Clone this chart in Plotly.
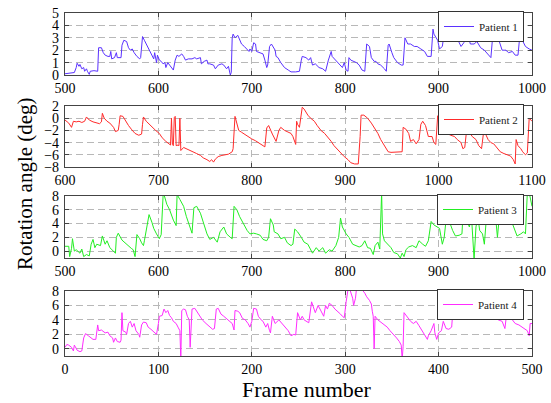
import plotly.graph_objects as go

# ---------------- data ----------------
p1_frames = [
    500, 505, 510, 512, 513, 515, 516, 518, 520, 521,
    523, 524, 526, 527, 531, 535, 536, 539, 541, 543,
    546, 548, 549, 550, 553, 555, 556, 560, 561, 563,
    566, 568, 570, 572, 574, 577, 580, 581, 583, 585,
    587, 589, 591, 593, 595, 596, 597, 598, 599, 601,
    603, 605, 607, 608, 610, 612, 614, 616, 618, 620,
    622, 625, 627, 629, 632, 636, 639, 641, 645, 646,
    649, 652, 653, 655, 659, 661, 664, 668, 670, 673,
    675, 677, 678, 679, 680, 682, 685, 687, 689, 692,
    695, 697, 698, 700, 702, 704, 705, 709, 712, 714,
    716, 717, 719, 721, 723, 725, 726, 728, 731, 735,
    739, 742, 747, 751, 753, 754, 758, 761, 763, 765,
    768, 772, 776, 779, 782, 785, 786, 790, 794, 797,
    799, 801, 803, 804, 806, 810, 812, 815, 818, 821,
    823, 826, 828, 831, 833, 835, 838, 842, 844, 846,
    847, 850, 852, 856, 860, 862, 864, 867, 870, 874,
    877, 881, 885, 888, 892, 894, 895, 899, 901, 904,
    906, 908, 911, 914, 917, 919, 922, 924, 927, 931,
    934, 938, 941, 945, 949, 952, 956, 958, 961, 965,
    968, 972, 975, 979, 982, 985, 987, 990, 993, 997,
    1000]
p1_angles = [
    0.1, 0.15, 0.2, 0.6, 0.95, 0.7, 0.85, 0.5, 0.6, 0.3,
    0.5, 0.3, 0.05, 0.3, 0.35, 0.3, 2.2, 2.2, 1.8, 1.6,
    1.5, 1.5, 1.9, 1.3, 1.4, 1.8, 1.4, 1.4, 2.4, 2.8,
    2.7, 2.2, 2.0, 2.1, 1.8, 1.5, 1.3, 1.4, 3.1, 2.8,
    2.5, 2.1, 1.9, 1.6, 1.3, 1.8, 1.4, 1.0, 1.6, 1.2,
    1.1, 0.9, 1.0, 0.6, 1.0, 0.8, 0.6, 0.4, 1.2, 1.6,
    1.5, 1.7, 1.5, 1.2, 1.3, 1.3, 1.4, 1.3, 1.4, 0.9,
    1.1, 1.2, 0.9, 0.9, 0.8, 0.5, 0.8, 0.9, 0.8, 0.5,
    0.7, 0.0, 0.2, 3.0, 3.3, 3.0, 3.2, 2.8, 2.5, 2.3,
    2.0, 1.9, 2.1, 1.9, 2.6, 2.5, 1.9, 1.8, 1.7, 1.2,
    0.6, 0.8, 2.3, 2.5, 2.2, 2.0, 1.5, 1.4, 1.0, 0.6,
    0.4, 0.25, 0.25, 0.3, 1.2, 1.5, 1.4, 1.2, 1.4, 0.8,
    0.9, 0.6, 0.5, 0.3, 1.2, 1.9, 1.5, 1.2, 0.9, 0.6,
    1.0, 0.4, 0.3, 1.4, 1.2, 1.1, 1.0, 0.8, 0.4, 0.3,
    2.5, 2.3, 1.4, 1.1, 1.1, 0.9, 0.8, 0.5, 0.3, 2.4,
    2.5, 1.8, 1.4, 1.0, 0.8, 0.8, 3.0, 2.5, 2.5, 2.3,
    2.3, 2.1, 1.9, 1.5, 1.5, 3.7, 3.3, 2.8, 2.1, 2.3,
    3.4, 3.9, 3.5, 3.2, 3.4, 3.1, 2.6, 2.3, 2.6, 3.3,
    2.5, 2.5, 2.7, 2.2, 2.0, 1.7, 1.4, 3.2, 3.0, 2.7,
    2.0, 2.0, 1.8, 1.9, 1.6, 1.6, 3.2, 2.7, 2.3, 2.1,
    2.0]

p2_frames = [
    600, 604, 607, 609, 612, 615, 618, 621, 623, 626,
    630, 634, 637, 639, 640, 642, 645, 648, 652, 654,
    657, 658, 659, 662, 665, 668, 671, 675, 679, 682,
    683, 684, 687, 690, 693, 697, 701, 704, 708, 711,
    713, 714, 715, 716, 717, 718, 719, 721, 722, 723,
    724, 727, 730, 734, 738, 741, 745, 748, 752, 755,
    757, 759, 761, 764, 768, 771, 775, 779, 780, 782,
    784, 786, 789, 793, 797, 800, 804, 807, 811, 814,
    816, 818, 822, 826, 829, 831, 835, 838, 842, 844,
    847, 848, 849, 851, 854, 856, 860, 863, 867, 870,
    874, 878, 881, 885, 888, 892, 896, 899, 903, 906,
    910, 914, 916, 917, 920, 924, 928, 931, 935, 938,
    942, 946, 949, 955, 961, 962, 965, 968, 970, 973,
    976, 979, 981, 983, 986, 989, 993, 995, 997, 999,
    1002, 1006, 1009, 1013, 1017, 1020, 1024, 1026, 1028, 1030,
    1033, 1036, 1040, 1043, 1046, 1048, 1050, 1053, 1056, 1059,
    1063, 1066, 1070, 1073, 1077, 1080, 1082, 1083, 1085, 1088,
    1090, 1093, 1095, 1097, 1100]
p2_angles = [
    -0.3, -0.8, -1.5, -0.5, -0.6, -0.5, -0.7, -0.5, 0.2, -0.3,
    -0.6, -0.8, -0.9, -0.6, 0.8, 0.0, -0.5, -0.8, -1.5, -2.2,
    -2.0, -1.0, 0.4, 0.3, -0.5, -1.2, -1.8, -2.5, -2.8, -2.6,
    -1.0, 0.2, -0.5, -1.0, -1.5, -2.0, -2.5, -3.2, -3.8, -4.2,
    -4.4, 0.0, -4.3, -4.5, 0.1, 0.3, -4.5, -4.4, -4.5, 0.0,
    -5.3, -4.8, -5.0, -5.2, -5.5, -5.8, -6.1, -6.5, -6.8, -7.1,
    -6.8, -7.2, -6.7, -6.3, -6.1, -6.0, -5.9, -5.5, -5.0, 0.3,
    -1.0, -2.0, -2.3, -2.7, -3.2, -3.4, -3.7, -4.0, -4.3, -4.7,
    -1.6, -1.2, -2.6, -3.8, -2.0, -1.5, -2.0, -2.2, -2.5, -3.0,
    -4.3, -0.5, -1.0, -1.5, 1.8, 1.5, 0.5, 0.0, -0.5, -1.2,
    -2.0, -2.5, -3.0, -3.8, -4.5, -5.2, -5.8, -6.3, -6.8, -7.3,
    -7.5, -7.5, -3.0, 0.5, 0.5, 0.0, -0.8, -1.5, -2.5, -3.5,
    -4.5, -5.5, -5.6, -5.6, -5.5, -1.5, -1.8, -2.5, -3.8, -3.5,
    -4.2, -3.5, -1.0, -0.5, -1.2, -3.0, -3.0, -4.0, -4.3, 0.4,
    -0.8, -1.5, -2.5, -2.8, -3.0, -3.5, -4.0, -5.0, -4.8, -2.0,
    -2.3, -3.0, -3.5, -4.5, -5.0, -2.5, -2.5, -3.5, -4.0, -4.2,
    -5.0, -5.5, -5.8, -6.0, -6.2, -6.8, -7.5, -3.5, -4.5, -5.0,
    -5.5, -6.0, -5.7, 0.0, -0.5]

p3_frames = [
    500, 504, 505, 507, 508, 510, 512, 516, 518, 520,
    523, 526, 528, 530, 532, 534, 538, 540, 543, 545,
    548, 552, 554, 555, 557, 561, 564, 568, 571, 573,
    575, 577, 580, 582, 584, 585, 588, 590, 593, 595,
    598, 601, 603, 605, 606, 609, 612, 616, 619, 620,
    623, 627, 630, 634, 636, 638, 641, 645, 648, 652,
    655, 659, 663, 666, 670, 673, 677, 679, 681, 684,
    687, 691, 695, 698, 702, 705, 709, 712, 716, 718,
    720, 723, 724, 728, 731, 735, 738, 742, 744, 746,
    749, 753, 756, 760, 763, 765, 769, 772, 776, 779,
    783, 786, 790, 793, 795, 797, 801, 804, 808, 811,
    815, 818, 821, 824, 827, 830, 832, 835, 837, 839,
    840, 842, 845, 849, 852, 856, 859, 861, 863, 865,
    868, 872, 876, 879, 883, 886, 889, 892, 895, 899,
    901, 904, 906, 908, 909, 911, 915, 918, 922, 925,
    926, 929, 933, 935, 937, 938, 940, 942, 944, 947,
    949, 951, 954, 958, 961, 963, 965, 968, 972, 975,
    979, 982, 984, 988, 991, 993, 995, 997, 1000]
p3_angles = [
    0.7, 0.7, -0.8, 0.4, 1.8, 0.0, 0.2, -0.3, 0.3, -0.8,
    -0.5, -0.7, 1.0, 1.7, 0.5, 1.0, 0.8, 2.2, 1.0, 1.5,
    0.5, 0.0, -0.3, 2.0, 2.6, 1.6, 1.2, 0.8, 0.4, 0.2,
    -0.8, 2.4, 1.8, 1.2, 0.8, 1.5, 3.5, 5.3, 4.2, 3.3,
    2.5, 1.8, 2.4, 8.0, 8.2, 6.8, 6.0, 4.5, 3.7, 8.2,
    7.5, 6.5, 5.0, 3.5, 2.6, 6.3, 6.5, 5.5, 4.2, 2.5,
    1.7, 2.0, 1.3, 2.8, 3.5, 2.5, 2.0, 1.8, 6.5, 6.0,
    5.0, 4.0, 3.0, 2.5, 2.6, 2.5, 2.3, 1.7, 1.5, 2.0,
    4.7, 3.8, 2.8, 2.5, 1.8, 2.0, 1.2, 0.8, 1.0, 3.2,
    2.8, 2.0, 1.3, 1.0, 0.3, -0.3, 0.5, 0.0, 0.5, -0.3,
    0.2, 0.0, 0.8, 2.0, 4.8, 3.5, 2.5, 2.0, 1.0, 0.8,
    0.6, 0.8, 1.5, 0.5, 0.4, -0.5, 0.8, 1.3, 0.3, 8.5,
    2.5, 1.5, 1.0, 0.5, -0.2, -0.4, -1.0, -0.3, -0.8, 0.2,
    0.6, 0.8, 0.5, 1.5, 1.0, 0.7, 1.5, 4.3, 3.8, 3.5,
    3.3, 1.0, 2.0, 4.5, 7.0, 4.5, 3.0, 2.2, 2.3, 2.5,
    5.0, 4.8, 3.5, 5.5, 0.8, -1.2, 3.5, 5.0, 3.0, 2.5,
    1.0, 4.5, 5.5, 4.5, 5.0, 2.0, 5.0, 6.5, 6.0, 4.5,
    4.0, 3.0, 2.2, 2.5, 2.8, 2.5, 8.5, 8.5, 6.5]

p4_frames = [
    0, 2, 4, 7, 9, 10, 11, 13, 16, 18,
    20, 22, 25, 28, 30, 33, 35, 36, 39, 43,
    46, 48, 51, 52, 54, 56, 59, 60, 61, 62,
    65, 66, 68, 70, 72, 74, 76, 79, 80, 82,
    84, 87, 89, 92, 95, 98, 100, 101, 104, 106,
    108, 110, 112, 114, 116, 119, 121, 123, 124, 125,
    127, 129, 131, 133, 134, 136, 139, 141, 144, 147,
    151, 155, 158, 160, 162, 164, 167, 170, 173, 177,
    179, 181, 182, 185, 187, 190, 193, 196, 198, 200,
    202, 205, 207, 210, 212, 215, 217, 219, 220, 222,
    225, 229, 232, 236, 239, 242, 245, 247, 249, 252,
    254, 256, 259, 261, 264, 266, 268, 271, 273, 275,
    277, 279, 281, 283, 286, 289, 291, 295, 297, 299,
    301, 303, 305, 308, 309, 311, 312, 315, 318, 321,
    323, 326, 328, 329, 330, 331, 332, 335, 337, 341,
    345, 348, 352, 355, 358, 360, 361, 362, 363, 366,
    370, 373, 376, 379, 382, 385, 388, 389, 392, 395,
    396, 398, 400, 403, 405, 408, 411, 414, 416, 418,
    421, 424, 427, 429, 434, 439, 445, 450, 455, 459,
    461, 464, 468, 471, 473, 476, 479, 482, 486, 489,
    492, 495, 497, 498, 500]
p4_angles = [
    0.2, 0.6, 0.5, 0.2, -0.3, 0.5, 0.3, -0.2, -0.4, -0.3,
    1.5, 2.1, 1.8, 1.5, 1.3, 1.3, 3.3, 2.5, 2.6, 2.2,
    2.3, 1.8, 1.5, 0.9, 1.5, 1.0, 0.9, 1.2, 5.0, 2.5,
    2.3, 2.0, 3.5, 3.8, 3.0, 3.5, 2.5, 2.0, 1.6, 3.3,
    3.7, 3.6, 3.0, 2.7, 2.4, 2.0, 3.5, 4.5, 4.6, 5.5,
    5.0, 5.3, 4.6, 4.3, 3.8, 3.5, 3.0, 2.5, -1.5, 5.3,
    5.5, 5.4, 4.5, 4.0, 0.2, 5.5, 5.6, 5.2, 4.5, 4.0,
    3.5, 3.0, 2.7, 2.8, 5.5, 5.6, 4.8, 4.5, 4.2, 3.8,
    3.5, 2.6, 5.3, 5.2, 5.0, 4.2, 4.0, 3.5, 3.0, 3.8,
    5.6, 5.5, 4.5, 4.0, 3.8, 3.0, 3.5, 2.5, 2.2, 4.5,
    3.5, 4.0, 3.5, 3.0, 2.5, 1.8, 2.0, 1.9, 5.0, 4.0,
    4.5, 4.0, 3.8, 3.6, 6.5, 5.8, 5.0, 6.0, 5.5, 4.8,
    4.5, 6.0, 5.5, 6.3, 6.0, 5.5, 5.3, 4.8, 4.5, 4.3,
    6.5, 8.2, 8.2, 7.0, 6.0, 7.0, 8.2, 8.2, 8.2, 7.7,
    7.2, 6.7, 6.2, 5.2, 4.5, 0.0, 4.5, 4.0, 3.8, 3.5,
    3.0, 2.5, 2.0, 1.5, 1.0, 0.5, -1.5, 0.3, 5.0, 4.5,
    3.8, 3.5, 3.8, 3.2, 2.5, 2.0, 1.3, 1.8, 2.5, 3.5,
    2.2, 1.3, 2.2, 2.5, 3.8, 2.8, 2.7, 3.0, 6.5, 5.0,
    5.0, 4.0, 4.5, 5.5, 5.2, 5.5, 5.3, 5.0, 4.8, 4.5,
    4.3, 4.0, 3.8, 2.8, 5.0, 4.5, 4.0, 3.5, 3.3, 3.0,
    2.8, 2.5, 1.8, 3.5, 3.5]

series_names = ["Patient 1", "Patient 2", "Patient 3", "Patient 4"]
x_ranges = [[500, 1000], [600, 1100], [500, 1000], [0, 500]]
y_ranges = [[0, 5], [-8, 2], [-1, 8], [-1, 8]]
y_ticks = [[0, 1, 2, 3, 4, 5], [-8, -6, -4, -2, 0, 2], [0, 2, 4, 6, 8], [0, 2, 4, 6, 8]]
x_title = "Frame number"
y_title = "Rotation angle (deg)"

# ---------------- styling ----------------
W, H = 551, 403
colors = ["#5a32ff", "#ff2a2a", "#22ee22", "#ff2cff"]
# plot-area boxes in pixels (top, bottom)
boxes_px = [(13, 75), (106, 167), (196, 258), (291, 356)]
x_left_px, x_right_px = 65, 532
FONT = "Liberation Serif"

fig = go.Figure()
frames_all = [p1_frames, p2_frames, p3_frames, p4_frames]
angles_all = [p1_angles, p2_angles, p3_angles, p4_angles]

layout = dict(
    width=W, height=H,
    margin=dict(l=0, r=0, t=0, b=0, autoexpand=False),
    paper_bgcolor="white", plot_bgcolor="white",
    font=dict(family=FONT, size=14, color="black"),
    showlegend=True,
)

for i in range(4):
    n = "" if i == 0 else str(i + 1)
    leg = "legend" + n
    fig.add_trace(go.Scatter(
        x=frames_all[i], y=angles_all[i], mode="lines", name=series_names[i],
        line=dict(color=colors[i], width=1),
        xaxis="x" + n, yaxis="y" + n, legend=leg,
    ))
    top, bot = boxes_px[i]
    axis_common = dict(
        showline=True, linecolor="#444", linewidth=1.3, mirror="ticks",
        ticks="inside", ticklen=4, tickcolor="#444", tickwidth=1,
        showgrid=True, gridcolor="#b8b8b8", griddash="7px,4px", gridwidth=1,
        zeroline=False, automargin=False,
        tickfont=dict(family=FONT, size=14, color="black"),
    )
    layout["xaxis" + n] = dict(
        axis_common, domain=[x_left_px / W, x_right_px / W],
        range=x_ranges[i], dtick=100, tick0=0, anchor="y" + n,
    )
    layout["yaxis" + n] = dict(
        axis_common, domain=[1 - bot / H, 1 - top / H],
        range=y_ranges[i], tickvals=y_ticks[i], anchor="x" + n, ticklabelstandoff=2,
    )
    layout[leg] = dict(
        x=(x_right_px - 8) / W, xanchor="right",
        y=1 - (top - 2) / H, yanchor="top",
        bgcolor="white", bordercolor="#333", borderwidth=1,
        font=dict(family=FONT, size=11, color="#222"),
        itemwidth=30, tracegroupgap=0,
    )

fig.update_layout(**layout)

fig.add_annotation(text=y_title, xref="paper", yref="paper",
                   x=25 / W, y=1 - 184 / H, xanchor="center", yanchor="middle",
                   showarrow=False, textangle=-90,
                   font=dict(family=FONT, size=21, color="black"))
fig.add_annotation(text=x_title, xref="paper", yref="paper",
                   x=307 / W, y=1 - 389 / H, xanchor="center", yanchor="middle",
                   showarrow=False,
                   font=dict(family=FONT, size=22, color="black"))

# the page's default 8px body margin would shift the figure; remove it
fig.write_html("out.html", config={"displayModeBar": False},
               post_script="document.body.style.margin='0';")
